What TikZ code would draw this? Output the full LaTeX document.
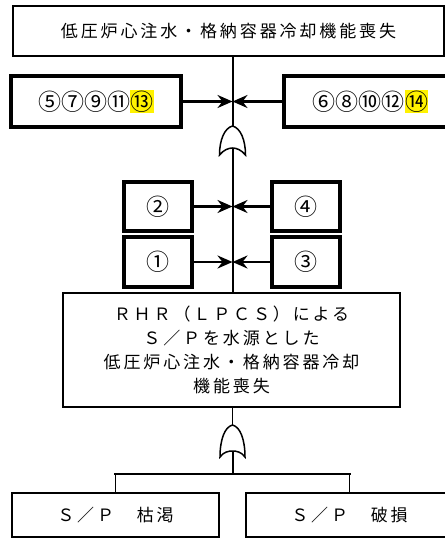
\documentclass[tikz,border=0pt]{standalone}
\usepackage{fontspec}
\setmainfont{Noto Sans CJK JP}
\newfontfamily\jpls[LetterSpace=17]{Noto Sans CJK JP}
\usetikzlibrary{arrows.meta}
\newcommand\yhl[1]{{\setlength\fboxsep{0.3pt}\colorbox{yellow}{#1}}}
\begin{document}
\begin{tikzpicture}[x=1pt,y=-1pt,
  txt/.style={font=\jpls\fontsize{17}{24}\selectfont},
  circ/.style={font=\fontsize{23}{24}\selectfont},
  box/.style={draw,inner sep=0pt,anchor=center},
  thinbox/.style={box,line width=1.2pt},
  heavybox/.style={box,line width=3.6pt},
  conn/.style={line width=2pt},
  arr/.style={line width=2.4pt,-{Stealth[length=15pt,width=13pt,inset=5pt]}},
  gate/.style={line width=1.5pt,fill=white},
  bus/.style={line width=2.6pt},
  drop/.style={line width=1pt}]
\path[use as bounding box,clip] (0,0) rectangle (445,539);
% boxes
\node[thinbox,txt,minimum width=431pt,minimum height=50pt] (top) at (228.5,31) {低圧炉心注水・格納容器冷却機能喪失};
\node[heavybox,circ,minimum width=170pt,minimum height=51pt] (n5) at (96,101.5) {⑤⑦⑨⑪\yhl{⑬}};
\node[heavybox,circ,minimum width=173pt,minimum height=51pt] (n6) at (370.5,101.5) {⑥⑧⑩⑫\yhl{⑭}};
\node[heavybox,circ,minimum width=68pt,minimum height=49pt] (n2) at (158,206.5) {②};
\node[heavybox,circ,minimum width=68pt,minimum height=50pt] (n1) at (158,262) {①};
\node[heavybox,circ,minimum width=68pt,minimum height=49pt] (n4) at (306,206.5) {④};
\node[heavybox,circ,minimum width=68pt,minimum height=50pt] (n3) at (306,262) {③};
\node[box,line width=1.6pt,txt,align=center,minimum width=337pt,minimum height=114pt] (main) at (231.5,350)
  {ＲＨＲ（ＬＰＣＳ）による\\Ｓ／Ｐを水源とした\\低圧炉心注水・格納容器冷却\\機能喪失};
\node[box,line width=1.4pt,txt,minimum width=207pt,minimum height=44pt] (bl) at (115.5,515) {Ｓ／Ｐ　枯渇};
\node[box,line width=1.4pt,txt,minimum width=207pt,minimum height=44pt] (br) at (349.5,515) {Ｓ／Ｐ　破損};
% gate coordinates
\coordinate (g1) at (232.5,126);
\coordinate (g1b) at (232.5,148);
\coordinate (g2) at (232.5,425);
\coordinate (g2b) at (232.5,451);
\coordinate (bus) at (232.5,474);
% connectors
\draw[conn] (top.south -| g1) -- (g1);
\draw[conn] (g1b) -- (main.north -| g1b);
\draw[arr] (n5.east) -- (n5.east -| g1);
\draw[arr] (n6.west) -- (n6.west -| g1);
\draw[arr] (n2.east) -- (n2.east -| g1);
\draw[arr] (n1.east) -- (n1.east -| g1);
\draw[arr] (n4.west) -- (n4.west -| g1);
\draw[arr] (n3.west) -- (n3.west -| g1);
\draw[conn,line width=1.5pt] (main.south -| g2) -- (g2);
\draw[conn] (g2b) -- (bus);
\draw[bus] ([xshift=-1.5pt]bl.north |- bus) -- ([xshift=1.5pt]br.north |- bus);
\draw[drop] (bl.north |- bus) -- (bl.north);
\draw[drop] (br.north |- bus) -- (br.north);
% OR gates
\draw[gate,shift={(g1)}] (0,0) .. controls (8,2) and (13,14) .. (13,29)
  .. controls (9,24) and (4,22) .. (0,22) .. controls (-4,22) and (-9,24) .. (-13,29)
  .. controls (-13,14) and (-8,2) .. (0,0) -- cycle;
\draw[gate,shift={(g2)}] (0,0) .. controls (8,2) and (12.5,15) .. (12.5,32)
  .. controls (9,27) and (4,26) .. (0,26) .. controls (-4,26) and (-9,27) .. (-12.5,32)
  .. controls (-12.5,15) and (-8,2) .. (0,0) -- cycle;
\draw[conn] (g1b) -- ++(0,6);
\draw[conn] (g2b) -- ++(0,6);
\end{tikzpicture}
\end{document}
